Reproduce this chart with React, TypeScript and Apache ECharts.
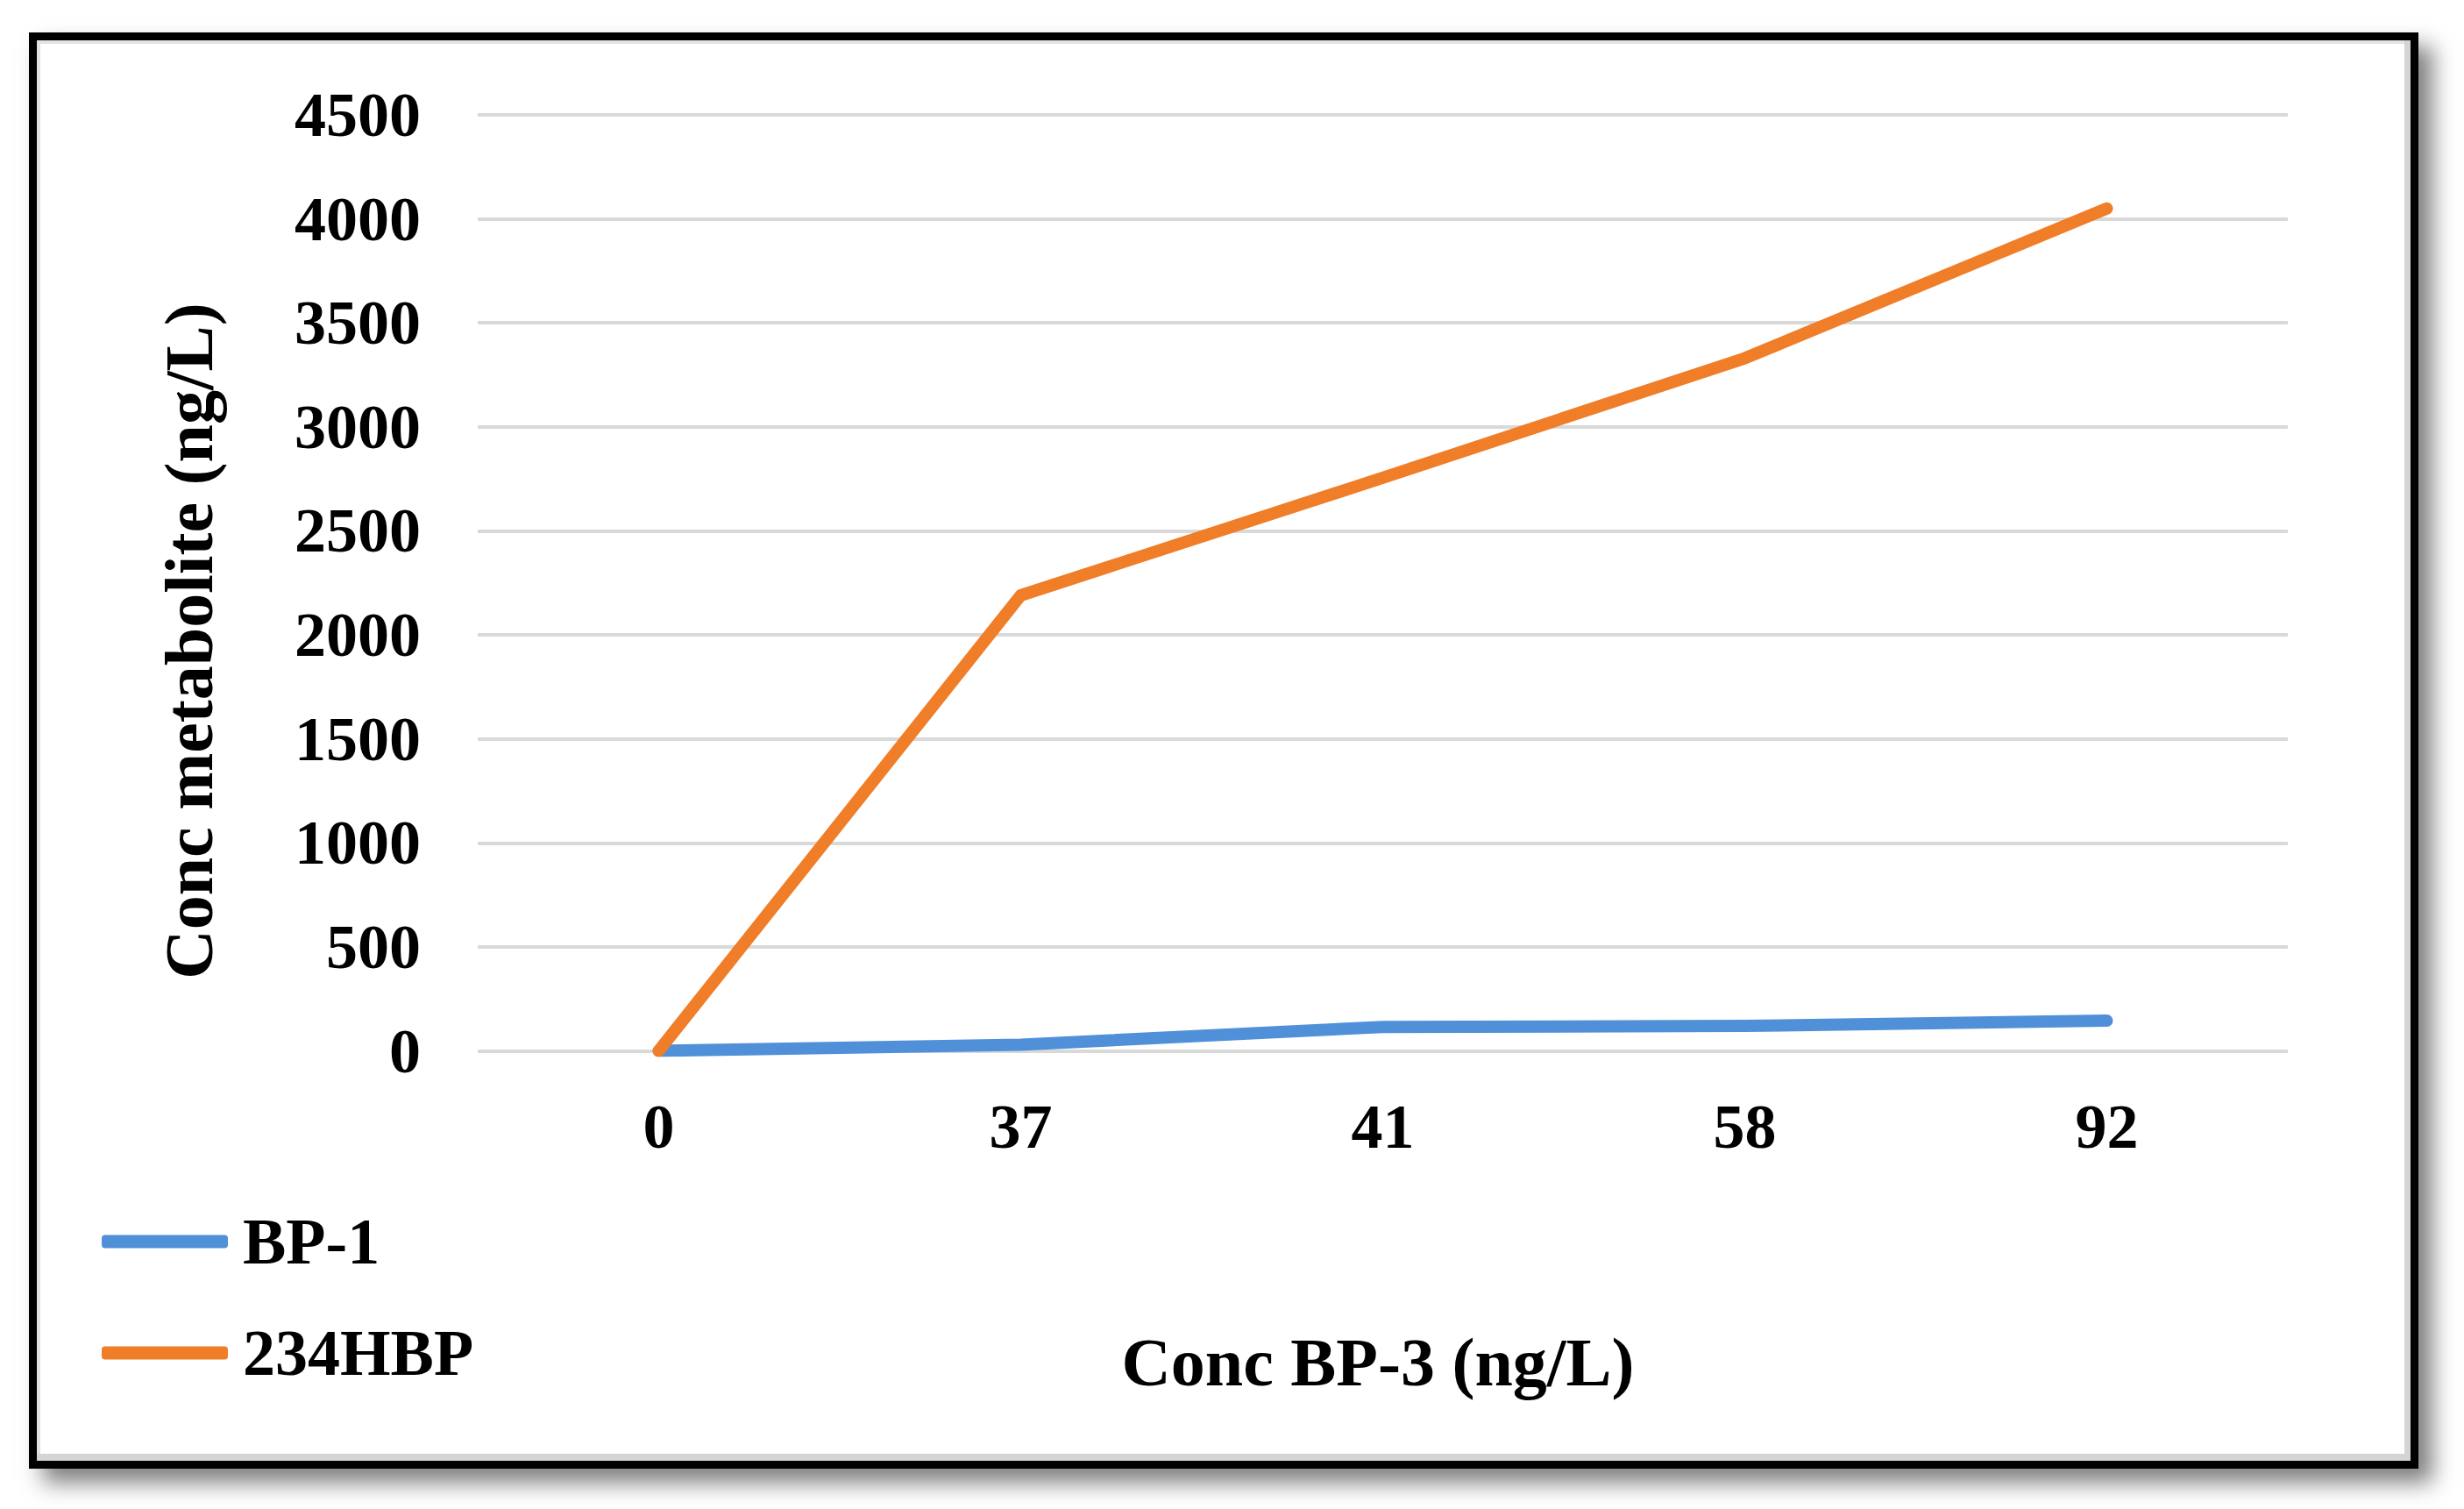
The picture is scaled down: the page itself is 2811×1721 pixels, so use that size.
import React, { useEffect, useRef } from "react";
import * as echarts from "echarts";

const categories = ["0", "37", "41", "58", "92"];
const bp1Values = [0, 30, 115, 120, 145];
const hbpValues = [0, 2190, 2755, 3330, 4050];
const seriesNames = ["BP-1", "234HBP"];
const xAxisTitle = "Conc BP-3 (ng/L)";
const yAxisTitle = "Conc metabolite (ng/L)";

const FONT = "'Liberation Serif', 'Times New Roman', serif";

export default function App() {
  const ref = useRef<HTMLDivElement>(null);

  useEffect(() => {
    document.body.style.margin = "0";
    if (!ref.current) return;
    const chart = echarts.init(ref.current, undefined, { renderer: "svg" });
    chart.setOption({
      animation: false,
      backgroundColor: "transparent",
      grid: { left: 545, right: 201, top: 131, bottom: 522.5, containLabel: false },
      legend: {
        orient: "vertical",
        left: 111,
        top: 1374,
        itemWidth: 144,
        itemHeight: 15,
        itemGap: 53,
        icon: "roundRect",
        textStyle: {
          fontFamily: FONT,
          fontWeight: "bold",
          fontSize: 74,
          color: "#000",
          padding: [0, 0, 0, 12],
        },
        data: seriesNames,
      },
      xAxis: {
        type: "category",
        data: categories,
        boundaryGap: true,
        axisLine: { show: false },
        axisTick: { show: false },
        axisLabel: {
          fontFamily: FONT,
          fontWeight: "bold",
          fontSize: 72,
          color: "#000",
          margin: 50,
        },
      },
      yAxis: {
        type: "value",
        min: 0,
        max: 4500,
        interval: 500,
        axisLine: { show: false },
        axisTick: { show: false },
        splitLine: { lineStyle: { color: "#d9d9d9", width: 4 } },
        axisLabel: {
          fontFamily: FONT,
          fontWeight: "bold",
          fontSize: 72,
          color: "#000",
          margin: 65,
          formatter: (v: number) => String(v),
        },
      },
      graphic: [
        {
          type: "text",
          x: 1572,
          y: 1553,
          style: {
            text: xAxisTitle,
            fontFamily: FONT,
            fontWeight: "bold",
            fontSize: 78,
            fill: "#000",
            align: "center",
            verticalAlign: "middle",
          },
        },
        {
          type: "text",
          x: 215,
          y: 731,
          rotation: Math.PI / 2,
          style: {
            text: yAxisTitle,
            fontFamily: FONT,
            fontWeight: "bold",
            fontSize: 78,
            fill: "#000",
            align: "center",
            verticalAlign: "middle",
          },
        },
      ],
      series: [
        {
          name: seriesNames[0],
          type: "line",
          data: bp1Values,
          showSymbol: false,
          symbol: "none",
          color: "#4f90d8",
          lineStyle: { width: 14, color: "#4f90d8", cap: "round", join: "round" },
        },
        {
          name: seriesNames[1],
          type: "line",
          data: hbpValues,
          showSymbol: false,
          symbol: "none",
          color: "#f07d27",
          lineStyle: { width: 14, color: "#f07d27", cap: "round", join: "round" },
        },
      ],
    });
    return () => chart.dispose();
  }, []);

  return (
    <div style={{ position: "fixed", left: 0, top: 0, width: 2811, height: 1721, background: "#fff" }}>
      <div
        style={{
          position: "absolute",
          left: 33,
          top: 37,
          width: 2726,
          height: 1638,
          boxSizing: "border-box",
          border: "9px solid #000",
          background: "#fff",
          boxShadow: "16px 16px 24px rgba(0,0,0,0.5), inset -7px -8px 0 #d4d4d4, inset 4px 4px 0 #e2e2e2",
        }}
      />
      <div ref={ref} style={{ position: "absolute", left: 0, top: 0, width: 2811, height: 1721 }} />
    </div>
  );
}
